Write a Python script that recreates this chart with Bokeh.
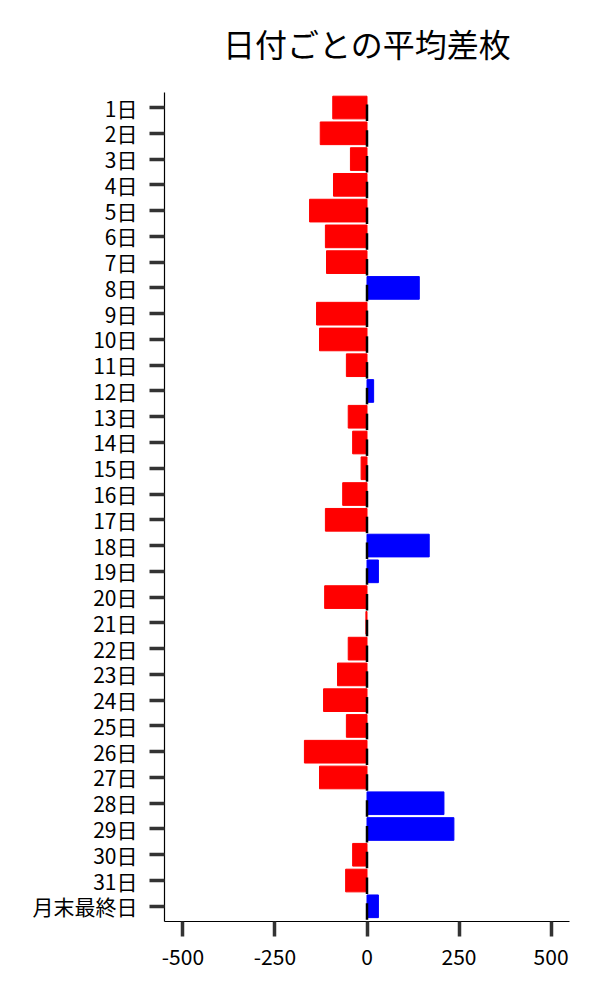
from bokeh.plotting import figure
from bokeh.models import Range1d, FixedTicker, ColumnDataSource, Label
from bokeh.embed import file_html
from bokeh.resources import INLINE

days = [f"{i}日" for i in range(1, 32)] + ["月末最終日"]
values = [-93, -127, -45, -91, -156, -113, -110, 142, -137, -129, -56,
          18, -51, -39, -16, -66, -113, 169, 31, -115, -3, -51,
          -80, -118, -56, -170, -129, 209, 236, -39, -58, 31]
x_ticks = [-500, -250, 0, 250, 500]
title_text = "日付ごとの平均差枚"

FONT = "Noto Sans CJK JP"

pos = list(range(len(days)))
colors = ["#0000ff" if v > 0 else "#ff0000" for v in values]
src = ColumnDataSource(dict(y=pos, v=values, c=colors,
                            y0=[p - 0.12 for p in pos], y1=[p + 0.52 for p in pos],
                            z=[0] * len(pos)))

# frame extends to the top of the canvas so that the title label is not clipped
p = figure(width=592, height=992, output_backend="svg", toolbar_location=None,
           x_range=Range1d(-550, 550), y_range=Range1d(31.59, -4.154),
           min_border_left=164, min_border_right=23, min_border_top=0, min_border_bottom=71)

p.hbar(y="y", left=0, right="v", height=0.88, color="c", source=src)
p.segment(x0="z", y0="y0", x1="z", y1="y1", line_color="black", line_width=2.5, source=src)

p.add_layout(Label(x=0, y=-2.505, text=title_text, text_align="center", text_baseline="middle",
                   text_font=FONT, text_font_size="32px", text_color="#000000"))

p.grid.visible = False
p.outline_line_color = None

p.xaxis.ticker = FixedTicker(ticks=x_ticks)
p.xaxis.major_label_overrides = {t: str(t) for t in x_ticks}
p.yaxis.ticker = FixedTicker(ticks=pos)
p.yaxis.major_label_overrides = {i: d for i, d in enumerate(days)}
p.yaxis.bounds = (-0.57, 31.59)

for ax in (p.xaxis, p.yaxis):
    ax.axis_line_color = "black"
    ax.axis_line_width = 1.2
    ax.major_tick_line_color = "#333333"
    ax.major_tick_line_width = 3.5
    ax.major_tick_out = 15
    ax.major_tick_in = 0
    ax.minor_tick_out = 0
    ax.minor_tick_in = 0
    ax.major_label_text_font = FONT
    ax.major_label_text_font_size = "21px"
    ax.major_label_text_color = "#000000"
    ax.major_label_standoff = 12

open("out.html", "w").write(file_html(p, INLINE))
